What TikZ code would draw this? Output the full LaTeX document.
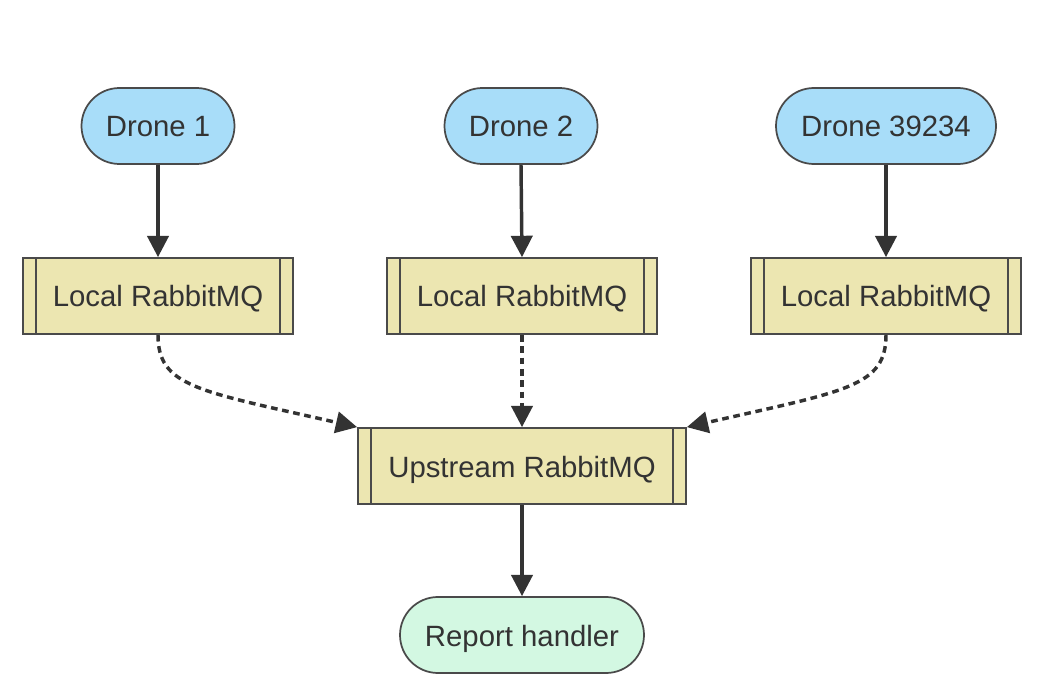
\documentclass[tikz,border=0pt]{standalone}
\usepackage{fontspec}
\setmainfont{Liberation Sans}
\usetikzlibrary{arrows.meta,calc}
\definecolor{droneblue}{HTML}{A8DDF9}
\definecolor{mqyellow}{HTML}{ECE6B1}
\definecolor{reportgreen}{HTML}{D3F8E2}
\definecolor{edgegray}{HTML}{4A4A4A}
\definecolor{txt}{HTML}{333333}
\definecolor{arrowdark}{HTML}{333333}
\begin{document}
\begin{tikzpicture}[x=0.75pt,y=-0.75pt,
  base/.style={draw=edgegray,line width=1.3pt,text=txt,font=\fontsize{22}{26}\selectfont,minimum height=57pt,inner sep=0pt,text height=20pt,text depth=3.5pt},
  stadium/.style={base,rounded corners=28.5pt},
  drone/.style={stadium,fill=droneblue},
  report/.style={stadium,fill=reportgreen},
  queue/.style={base,fill=mqyellow},
  flow/.style={draw=arrowdark,line width=2.6pt,-{Triangle[length=16pt,width=16pt]}},
  dotflow/.style={flow,dash pattern=on 5pt off 3.5pt}
]
\useasboundingbox (0,0) rectangle (1053,698);
\node[drone,minimum width=114.75pt] (d1) at (158,126) {Drone 1};
\node[drone,minimum width=114.75pt] (d2) at (521,126) {Drone 2};
\node[drone,minimum width=165pt] (d3) at (886,126) {Drone 39234};
\node[queue,minimum width=202.5pt] (q1) at (158,296) {Local RabbitMQ};
\node[queue,minimum width=202.5pt] (q2) at (522,296) {Local RabbitMQ};
\node[queue,minimum width=202.5pt] (q3) at (886,296) {Local RabbitMQ};
\node[queue,minimum width=246pt] (up) at (522,466) {Upstream RabbitMQ};
\node[report,minimum width=183pt] (rep) at (522,635) {Report handler};
\foreach \n in {q1,q2,q3,up}{
  \draw[draw=edgegray,line width=1.3pt] ($(\n.north west)+(14,0)$) -- ($(\n.south west)+(14,0)$);
  \draw[draw=edgegray,line width=1.3pt] ($(\n.north east)+(-14,0)$) -- ($(\n.south east)+(-14,0)$);
}
\draw[flow] (d1.south) -- (q1.north);
\draw[flow] (d2.south) -- (q2.north);
\draw[flow] (d3.south) -- (q3.north);
\draw[dotflow] (q1.south) .. controls ($(q1.south)+(0,52)$) and ($(q1.south)+(40,56)$) .. (up.north west);
\draw[dotflow] (q2.south) -- (up.north);
\draw[dotflow] (q3.south) .. controls ($(q3.south)+(0,52)$) and ($(q3.south)+(-40,56)$) .. (up.north east);
\draw[flow] (up.south) -- (rep.north);
\end{tikzpicture}
\end{document}
